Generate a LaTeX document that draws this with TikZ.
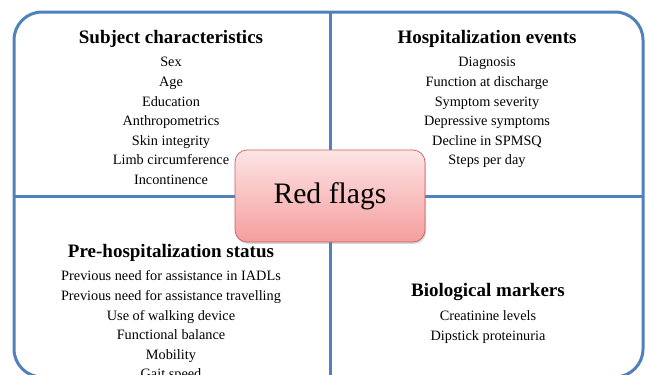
\documentclass[tikz,border=0pt]{standalone}
\usepackage{fontspec}
\setmainfont{Liberation Serif}
\usetikzlibrary{positioning,shadows}
\definecolor{frameblue}{RGB}{79,129,189}
\definecolor{flagred}{RGB}{200,95,95}
\definecolor{flagtop}{RGB}{253,228,228}
\definecolor{flagbottom}{RGB}{245,158,158}

\tikzset{
  heading/.style={inner sep=0pt, font=\fontsize{19}{22}\selectfont\bfseries, text height=12.5pt, text depth=4pt},
  itemlist/.style={inner sep=0pt, align=center, font=\fontsize{14.3}{19.6}\selectfont},
  flagbox/.style={draw=flagred, line width=0.7pt, rounded corners=12pt, top color=flagtop, bottom color=flagbottom,
    minimum width=190pt, minimum height=92pt, font=\fontsize{29.7}{34}\selectfont,
    drop shadow={opacity=0.3, shadow xshift=1pt, shadow yshift=-2pt}}
}

\begin{document}
\begin{tikzpicture}[x=1pt, y=-1pt, node distance=5.8pt]
  \useasboundingbox (0,0) rectangle (646,375);
  \clip (0,0) rectangle (646,375);
  \fill[white] (0,0) rectangle (646,375);
  % frame and the two dividers
  \draw[frameblue, line width=3pt, rounded corners=28pt] (14,12) rectangle (643,377);
  \draw[frameblue, line width=3pt] (330,12) -- (330,377);
  \draw[frameblue, line width=3pt] (14,196) -- (643,196);

  \node[heading, anchor=base] (subject) at (171,43) {Subject characteristics};
  \node[itemlist, below=of subject] (subjectlist) {\strut Sex\\Age\\Education\\Anthropometrics\\Skin integrity\\Limb circumference\\Incontinence};

  \node[heading, anchor=base] (hosp) at (487,43) {Hospitalization events};
  \node[itemlist, below=of hosp] (hosplist) {\strut Diagnosis\\Function at discharge\\Symptom severity\\Depressive symptoms\\Decline in SPMSQ\\Steps per day};

  \node[heading, anchor=base] (prehosp) at (171,257) {Pre-hospitalization status};
  \node[itemlist, below=of prehosp] (prehosplist) {\strut Previous need for assistance in IADLs\\Previous need for assistance travelling\\Use of walking device\\Functional balance\\Mobility\\Gait speed};

  \node[heading, anchor=base] (bio) at (488,296.5) {Biological markers};
  \node[itemlist, below=of bio] (biolist) {\strut Creatinine levels\\Dipstick proteinuria};

  \node[flagbox] (flags) at (330,196) {Red flags};
\end{tikzpicture}
\end{document}
